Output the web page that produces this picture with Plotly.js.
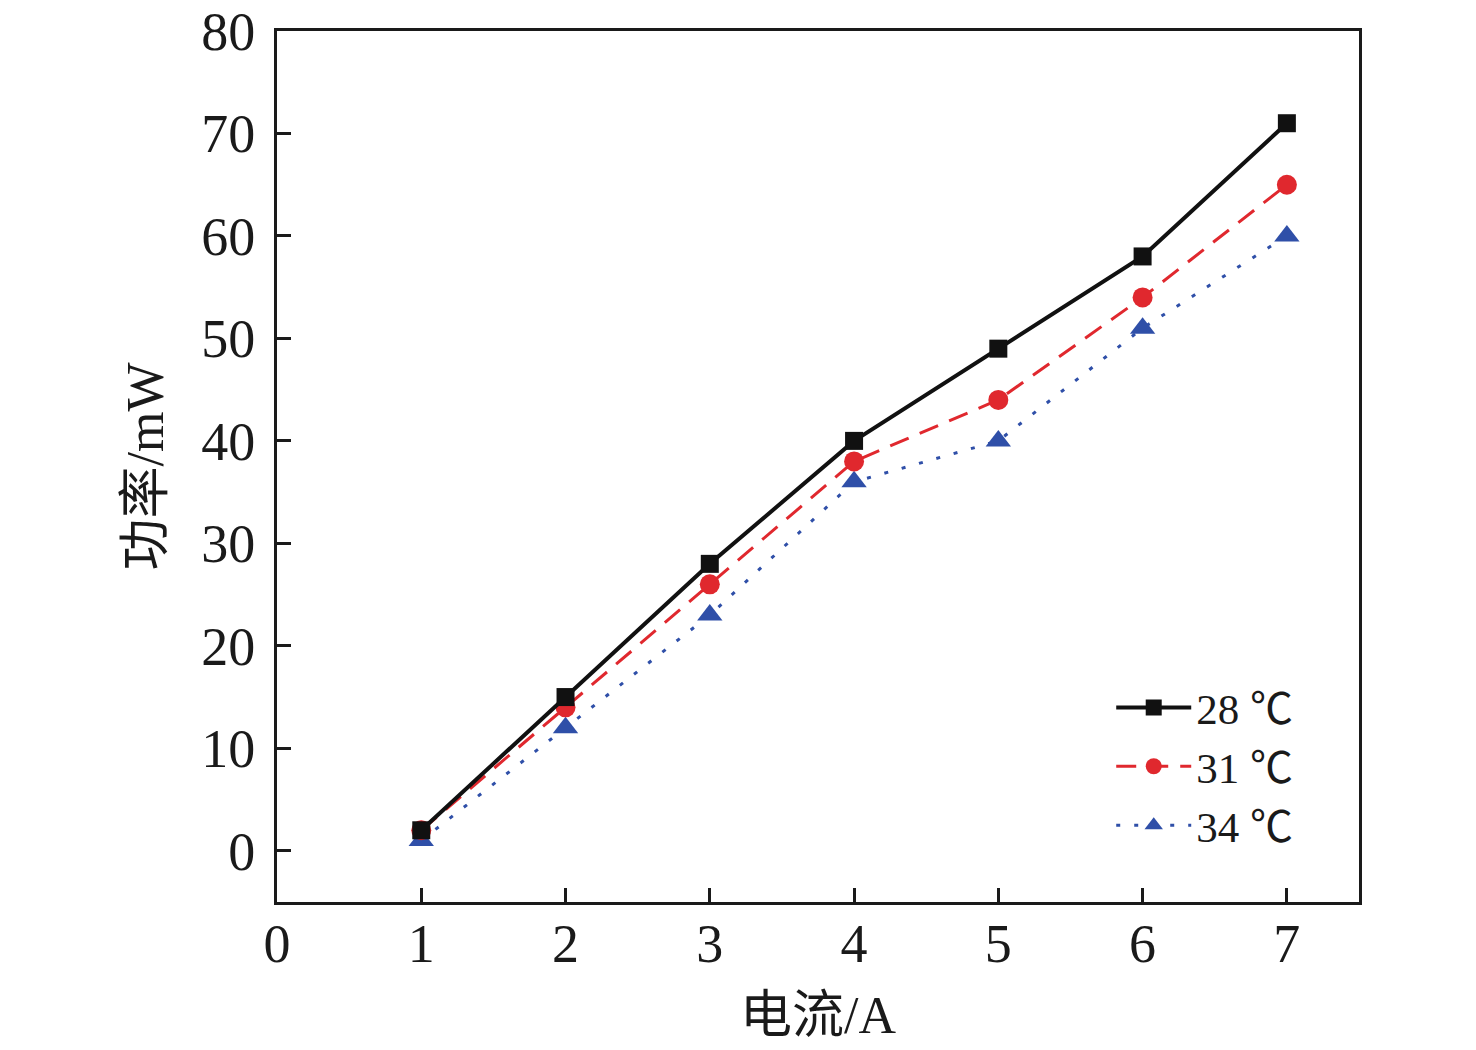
<!DOCTYPE html>
<html><head><meta charset="utf-8">
<script src="https://cdn.plot.ly/plotly-3.0.1.min.js"></script>
<style>body{margin:0;background:#fff}#c{width:1476px;height:1050px}</style>
</head><body><div id="c"></div>
<script>
const current = [1, 2, 3, 4, 5, 6, 7];
const p28 = [2, 15, 28, 40, 49, 58, 71];
const p31 = [2, 14, 26, 38, 44, 54, 65];
const p34 = [1, 12, 23, 36, 40, 51, 60];
const names = ['28 ℃', '31 ℃', '34 ℃'];
const xTicks = [0, 1, 2, 3, 4, 5, 6, 7];
const yTicks = [0, 10, 20, 30, 40, 50, 60, 70, 80];

const fam = '"Liberation Serif", "Times New Roman", "Noto Sans CJK SC", serif';
const traces = [
  {x: current, y: p34, name: names[2], mode: 'lines+markers', line: {color: '#2f4fa8', width: 3, dash: '4px,14px'}, marker: {symbol: 'triangle-up', size: 22, color: '#2f4fa8'}},
  {x: current, y: p31, name: names[1], mode: 'lines+markers', line: {color: '#e0282e', width: 3, dash: '20px,12px'}, marker: {symbol: 'circle', size: 20, color: '#e0282e'}},
  {x: current, y: p28, name: names[0], mode: 'lines+markers', line: {color: '#111111', width: 4}, marker: {symbol: 'square', size: 18, color: '#111111'}}
];
const layout = {
  width: 1476, height: 1050,
  margin: {l: 277, r: 117, t: 31, b: 148},
  paper_bgcolor: '#fff', plot_bgcolor: '#fff',
  font: {family: fam, size: 54, color: '#1a1a1a'},
  showlegend: true,
  legend: {x: 0.771, y: 0.263, xanchor: 'left', yanchor: 'top', traceorder: 'reversed', font: {family: fam, size: 43}, bgcolor: 'rgba(0,0,0,0)', itemwidth: 75, tracegroupgap: 0},
  xaxis: {range: [0, 7.5], tickvals: xTicks, ticktext: xTicks.map(String), ticks: 'inside', ticklen: 14, tickwidth: 3, tickcolor: '#1a1a1a',
    ticklabelstandoff: -8,
    showline: true, linewidth: 3, linecolor: '#1a1a1a', mirror: true, showgrid: false, zeroline: false,
    title: {text: '电流/A', font: {family: fam, size: 52}, standoff: 24}},
  yaxis: {range: [-5, 80], tickvals: yTicks, ticktext: yTicks.map(String), ticks: 'inside', ticklen: 14, tickwidth: 3, tickcolor: '#1a1a1a',
    ticklabelstandoff: 8,
    showline: true, linewidth: 3, linecolor: '#1a1a1a', mirror: true, showgrid: false, zeroline: false,
    title: {text: '功率/mW', font: {family: fam, size: 52}, standoff: 22}}
};
Plotly.newPlot('c', traces, layout, {displayModeBar: false});
</script></body></html>
